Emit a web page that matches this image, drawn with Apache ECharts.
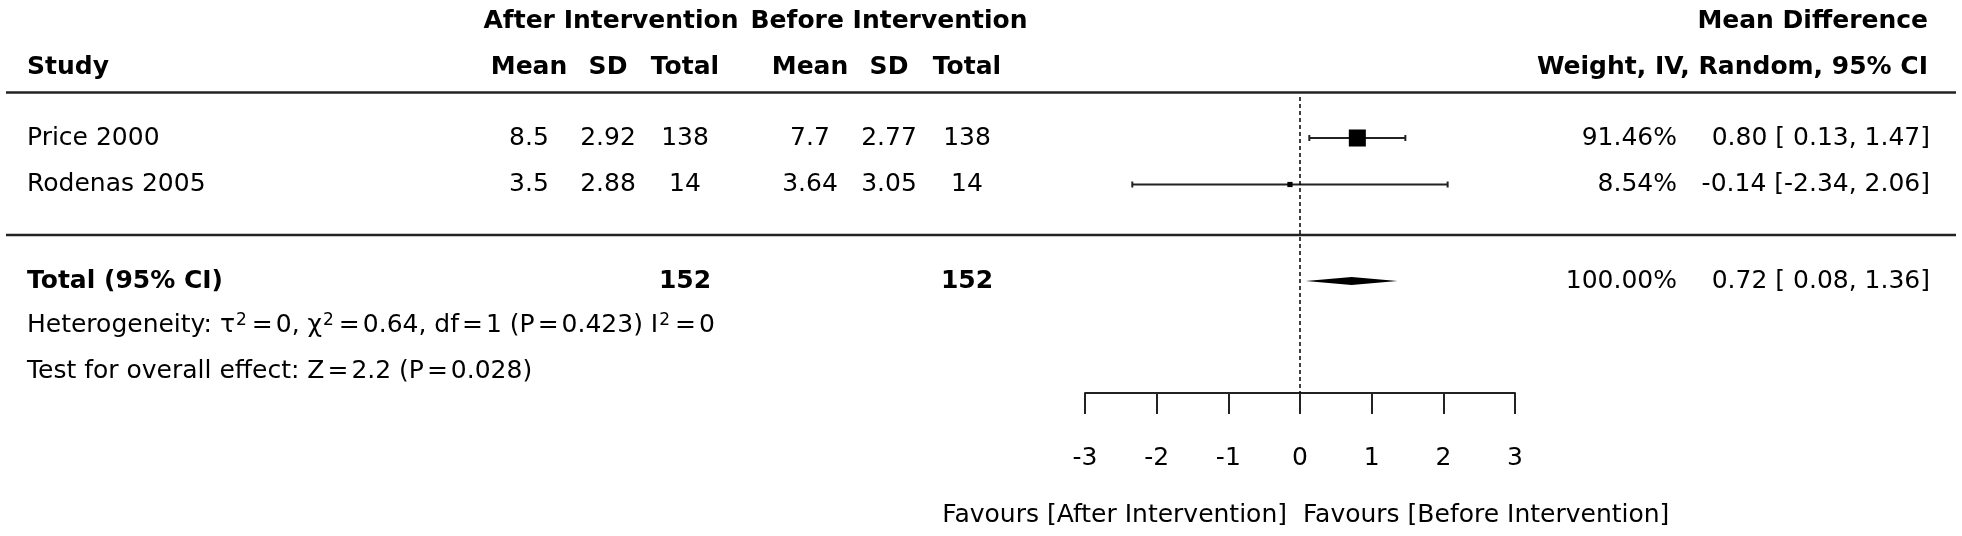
<!DOCTYPE html>
<html>
<head>
<meta charset="utf-8">
<script src="https://cdn.jsdelivr.net/npm/echarts@6/dist/echarts.min.js"></script>
<style>
  html, body { margin: 0; padding: 0; background: #fff; }
  #chart { width: 1962px; height: 536px; }
</style>
</head>
<body>
<div id="chart"></div>
<script>
// studies
var studies = ['Price 2000', 'Rodenas 2005'];
var meanAfter = [8.5, 3.5];
var sdAfter = [2.92, 2.88];
var nAfter = [138, 14];
var meanBefore = [7.7, 3.64];
var sdBefore = [2.77, 3.05];
var nBefore = [138, 14];
var weights = [91.46, 8.54];
var md = [0.80, -0.14];
var ciLow = [0.13, -2.34];
var ciHigh = [1.47, 2.06];

// pooled result
var totals = [152, 152];
var pooled = [0.72, 0.08, 1.36];
var pooledWeight = 100.00;
var heterogeneity = 'Heterogeneity: τ{sup|2}{eq|=}0, χ{sup|2}{eq|=}0.64, df{eq|=}1 (P{eq|=}0.423) I{sup|2}{eq|=}0';
var overallTest = 'Test for overall effect: Z{eq|=}2.2 (P{eq|=}0.028)';

// x axis ticks
var xTicks = [-3, -2, -1, 0, 1, 2, 3];

// layout
var FONT = 'DejaVu Sans';
var FS = 25;
var ROW0 = 138, ROW_H = 46.5;
function row(px) { return (px - ROW0) / ROW_H; }
var totalRow = row(281);

function fmt2(v) { return v.toFixed(2); }
function ciText(m, lo, hi) {
  return fmt2(m) + ' [' + (lo >= 0 ? ' ' : '') + fmt2(lo) + ', ' + fmt2(hi) + ']';
}

// table cells
var cols = { study: 27, m1: 529, s1: 608, n1: 685, m2: 810, s2: 889, n2: 967, w: 1677, ci: 1930 };
var cells = [];
function cell(x, r, text, align, bold) {
  cells.push({ x: x, r: r, text: String(text), align: align, bold: !!bold });
}
cell(611, row(21), 'After Intervention', 'center', true);
cell(889, row(21), 'Before Intervention', 'center', true);
cell(1928, row(21), 'Mean Difference', 'right', true);
cell(cols.study, row(67), 'Study', 'left', true);
cell(cols.m1, row(67), 'Mean', 'center', true);
cell(cols.s1, row(67), 'SD', 'center', true);
cell(cols.n1, row(67), 'Total', 'center', true);
cell(cols.m2, row(67), 'Mean', 'center', true);
cell(cols.s2, row(67), 'SD', 'center', true);
cell(cols.n2, row(67), 'Total', 'center', true);
cell(1928, row(67), 'Weight, IV, Random, 95% CI', 'right', true);

studies.forEach(function (s, i) {
  cell(cols.study, i, s, 'left');
  cell(cols.m1, i, meanAfter[i], 'center');
  cell(cols.s1, i, sdAfter[i], 'center');
  cell(cols.n1, i, nAfter[i], 'center');
  cell(cols.m2, i, meanBefore[i], 'center');
  cell(cols.s2, i, sdBefore[i], 'center');
  cell(cols.n2, i, nBefore[i], 'center');
  cell(cols.w, i, weights[i].toFixed(2) + '%', 'right');
  cell(cols.ci, i, ciText(md[i], ciLow[i], ciHigh[i]), 'right');
});

cell(cols.study, totalRow, 'Total (95% CI)', 'left', true);
cell(cols.n1, totalRow, totals[0], 'center', true);
cell(cols.n2, totalRow, totals[1], 'center', true);
cell(cols.w, totalRow, pooledWeight.toFixed(2) + '%', 'right');
cell(cols.ci, totalRow, ciText(pooled[0], pooled[1], pooled[2]), 'right');
cell(cols.study, row(325), heterogeneity, 'left');
cell(cols.study, row(371), overallTest, 'left');
cell(1287, row(515), 'Favours [After Intervention]', 'right');
cell(1303, row(515), 'Favours [Before Intervention]', 'left');

var rules = [row(92.5), row(235)];

var chart = echarts.init(document.getElementById('chart'));

var option = {
  backgroundColor: '#fff',
  animation: false,
  grid: [
    { left: 1085, width: 430, top: 97, height: 296 },
    { left: 0, right: 0, top: 0, bottom: 0 }
  ],
  xAxis: [
    {
      gridIndex: 0, type: 'value', min: xTicks[0], max: xTicks[xTicks.length - 1], interval: 1,
      axisLine: { show: true, onZero: false, lineStyle: { color: '#222', width: 2 } },
      axisTick: { show: true, length: 21, lineStyle: { color: '#222', width: 2 } },
      axisLabel: { margin: 53, color: '#000', fontFamily: FONT, fontSize: FS },
      splitLine: { show: false }
    },
    { gridIndex: 1, type: 'value', min: 0, max: 1962, show: false }
  ],
  yAxis: [
    { gridIndex: 0, type: 'value', inverse: true, min: row(97), max: row(393), show: false },
    { gridIndex: 1, type: 'value', inverse: true, min: row(0), max: row(536), show: false }
  ],
  series: [
    {
      // zero line
      type: 'line', xAxisIndex: 0, yAxisIndex: 0, silent: true,
      data: [[0, row(97)], [0, row(393)]],
      symbol: 'none',
      lineStyle: { color: '#000', width: 1.5, type: [4, 3] }
    },
    {
      // study CIs and squares
      type: 'custom', xAxisIndex: 0, yAxisIndex: 0, silent: true,
      data: studies.map(function (s, i) { return [md[i], i, ciLow[i], ciHigh[i], weights[i]]; }),
      renderItem: function (params, api) {
        var c = api.coord([api.value(0), api.value(1)]);
        var lo = api.coord([api.value(2), api.value(1)]);
        var hi = api.coord([api.value(3), api.value(1)]);
        var side = 17.8 * Math.sqrt(api.value(4) / 100);
        var ls = { stroke: '#222', lineWidth: 2 };
        return {
          type: 'group',
          children: [
            { type: 'line', shape: { x1: lo[0], y1: c[1], x2: hi[0], y2: c[1] }, style: ls },
            { type: 'line', shape: { x1: lo[0], y1: c[1] - 3, x2: lo[0], y2: c[1] + 3 }, style: ls },
            { type: 'line', shape: { x1: hi[0], y1: c[1] - 3, x2: hi[0], y2: c[1] + 3 }, style: ls },
            { type: 'rect', shape: { x: c[0] - side / 2, y: c[1] - side / 2, width: side, height: side }, style: { fill: '#000' } }
          ]
        };
      }
    },
    {
      // pooled diamond
      type: 'custom', xAxisIndex: 0, yAxisIndex: 0, silent: true,
      data: [[pooled[0], totalRow, pooled[1], pooled[2]]],
      renderItem: function (params, api) {
        var c = api.coord([api.value(0), api.value(1)]);
        var lo = api.coord([api.value(2), api.value(1)]);
        var hi = api.coord([api.value(3), api.value(1)]);
        return {
          type: 'polygon',
          shape: { points: [[lo[0], c[1]], [c[0], c[1] - 4], [hi[0], c[1]], [c[0], c[1] + 4]] },
          style: { fill: '#000' }
        };
      }
    },
    {
      // horizontal rules
      type: 'custom', xAxisIndex: 1, yAxisIndex: 1, silent: true,
      data: rules.map(function (r) { return [6, r, 1956]; }),
      renderItem: function (params, api) {
        var a = api.coord([api.value(0), api.value(1)]);
        var b = api.coord([api.value(2), api.value(1)]);
        return { type: 'line', shape: { x1: a[0], y1: a[1], x2: b[0], y2: b[1] }, style: { stroke: '#222', lineWidth: 2.5 } };
      }
    },
    {
      // table text
      type: 'custom', xAxisIndex: 1, yAxisIndex: 1, silent: true,
      data: cells.map(function (c) { return [c.x, c.r]; }),
      renderItem: function (params, api) {
        var c = cells[params.dataIndex];
        var p = api.coord([api.value(0), api.value(1)]);
        return {
          type: 'text', x: p[0], y: p[1],
          style: {
            text: c.text, fill: '#000', fontFamily: FONT, fontSize: FS,
            fontWeight: c.bold ? 'bold' : 'normal', align: c.align, verticalAlign: 'middle',
            rich: {
              sup: { fontFamily: FONT, fontSize: 17, verticalAlign: 'top', padding: [0, 2, 8, 1], fill: '#000' },
              eq: { fontFamily: FONT, fontSize: FS, padding: [0, 3, 0, 3], fill: '#000' }
            }
          }
        };
      }
    }
  ]
};

chart.setOption(option);
</script>
</body>
</html>
